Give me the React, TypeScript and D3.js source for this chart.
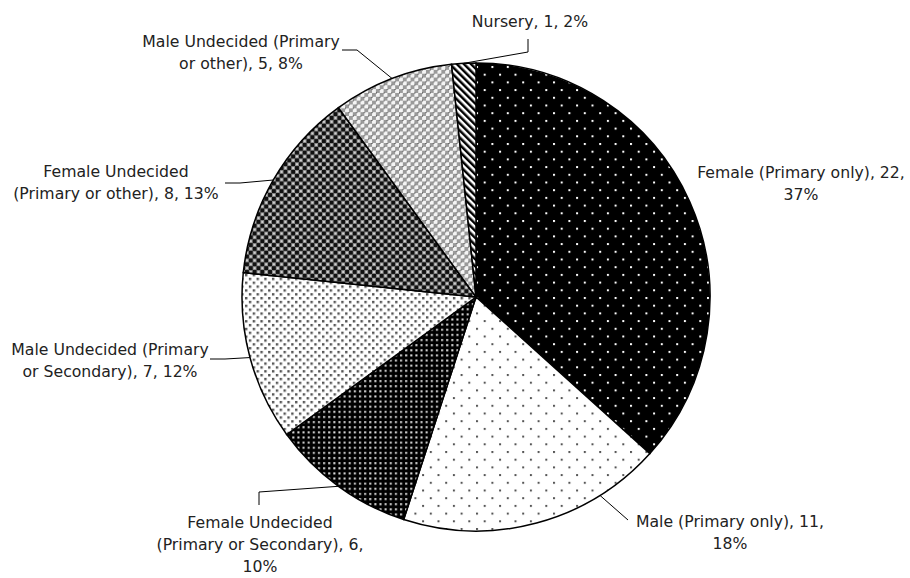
import { useEffect } from 'react';
import * as d3 from 'd3';

// slices, clockwise from 12 o'clock
const categories = [
    'Female (Primary only)',
    'Male (Primary only)',
    'Female Undecided (Primary or Secondary)',
    'Male Undecided (Primary or Secondary)',
    'Female Undecided (Primary or other)',
    'Male Undecided (Primary or other)',
    'Nursery',
];
const values = [22, 11, 6, 7, 8, 5, 1];

// how each label is broken into lines ({v} = value, {p} = percent)
const labelLines = [
    ['Female (Primary only), {v},', '{p}'],
    ['Male (Primary only), {v},', '{p}'],
    ['Female Undecided', '(Primary or Secondary), {v},', '{p}'],
    ['Male Undecided (Primary', 'or Secondary), {v}, {p}'],
    ['Female Undecided', '(Primary or other), {v}, {p}'],
    ['Male Undecided (Primary', 'or other), {v}, {p}'],
    ['Nursery, {v}, {p}'],
];

const patternIds = ['p0', 'p1', 'p2', 'p3', 'p4', 'p5', 'p6'];

// label placement: centre x, first baseline, leader bend points, leader angle on rim
const labelLayout = [
    { x: 801, y: 178, leader: [] as number[][], angle: null as number | null },
    { x: 730, y: 527, leader: [[628, 520]], angle: 148 },
    { x: 260, y: 528, leader: [[259, 492], [259, 505]], angle: null },
    { x: 110, y: 355, leader: [[225, 359], [210, 359]], angle: null },
    { x: 116, y: 177, leader: [[240, 183], [225, 183]], angle: null },
    { x: 241, y: 47, leader: [[357, 50], [342, 50]], angle: null },
    { x: 530, y: 27, leader: [[528, 52], [528, 39]], angle: null },
];

const W = 910;
const H = 578;
const cx = 476;
const cy = 297;
const R = 234;
const lineH = 22;

export default function App() {
    useEffect(() => {
        document.body.style.margin = '0';
    }, []);

    const total = d3.sum(values);
    const pie = d3.pie<number>().sort(null).startAngle(0).endAngle(2 * Math.PI);
    const arcs = pie(values);
    const arc = d3.arc<d3.PieArcDatum<number>>().innerRadius(0).outerRadius(R);

    const rim = (a: number) => [cx + R * Math.sin(a), cy - R * Math.cos(a)];

    const s = 7.7;

    return (
        <svg width={W} height={H} style={{ display: 'block', background: '#fff' }}>
            <defs>
                <pattern id="p0" width={2 * s} height={2 * s} patternUnits="userSpaceOnUse">
                    <rect width={2 * s} height={2 * s} fill="#000" />
                    <rect x={0} y={0} width={2} height={2} fill="#fff" />
                    <rect x={s} y={s} width={2} height={2} fill="#fff" />
                </pattern>
                <pattern id="p1" width={2 * s} height={2 * s} patternUnits="userSpaceOnUse">
                    <rect width={2 * s} height={2 * s} fill="#fff" />
                    <rect x={0} y={0} width={2} height={2} fill="#555" />
                    <rect x={s} y={s} width={2} height={2} fill="#555" />
                </pattern>
                <pattern id="p2" width={5.13} height={5.13} patternUnits="userSpaceOnUse">
                    <rect width={5.13} height={5.13} fill="#000" />
                    <rect x={1} y={1} width={2} height={2} fill="#ddd" />
                </pattern>
                <pattern id="p3" width={s} height={s} patternUnits="userSpaceOnUse">
                    <rect width={s} height={s} fill="#fff" />
                    <rect x={0} y={0} width={2.4} height={2.4} fill="#555" />
                    <rect x={s / 2} y={s / 2} width={2.4} height={2.4} fill="#555" />
                </pattern>
                <pattern id="p4" width={s} height={s} patternUnits="userSpaceOnUse">
                    <rect width={s} height={s} fill="#111" />
                    <rect x={0} y={0} width={s / 2} height={s / 2} fill="#8a8a8a" />
                    <rect x={s / 2} y={s / 2} width={s / 2} height={s / 2} fill="#8a8a8a" />
                    <rect x={1.2} y={1.2} width={1.5} height={1.5} fill="#fff" />
                    <rect x={s / 2 + 1.2} y={s / 2 + 1.2} width={1.5} height={1.5} fill="#fff" />
                </pattern>
                <pattern id="p5" width={s} height={s} patternUnits="userSpaceOnUse">
                    <rect width={s} height={s} fill="#f4f4f4" />
                    <rect x={0} y={0} width={s / 2} height={s / 2} fill="#9a9a9a" />
                    <rect x={s / 2} y={s / 2} width={s / 2} height={s / 2} fill="#9a9a9a" />
                    <rect x={s / 2 - 0.7} y={-0.7} width={1.4} height={1.4} fill="#333" />
                    <rect x={-0.7} y={s / 2 - 0.7} width={1.4} height={1.4} fill="#333" />
                </pattern>
                <pattern id="p6" width={5} height={5} patternUnits="userSpaceOnUse" patternTransform="rotate(-45)">
                    <rect width={5} height={5} fill="#fff" />
                    <rect width={2.5} height={5} fill="#000" />
                </pattern>
            </defs>

            <g transform={`translate(${cx},${cy})`}>
                {arcs.map((d, i) => (
                    <path key={i} d={arc(d) || ''} fill={`url(#${patternIds[i]})`} stroke="#000" strokeWidth={1.5} />
                ))}
            </g>

            {arcs.map((d, i) => {
                const lay = labelLayout[i];
                const mid = lay.angle !== null ? (lay.angle * Math.PI) / 180 : (d.startAngle + d.endAngle) / 2;
                if (!lay.leader.length) return null;
                const pts = [rim(mid), ...lay.leader];
                return (
                    <polyline
                        key={'l' + i}
                        points={pts.map(p => p.join(',')).join(' ')}
                        fill="none"
                        stroke="#000"
                        strokeWidth={1}
                    />
                );
            })}

            {categories.map((c, i) => {
                const lay = labelLayout[i];
                const pct = Math.round((values[i] / total) * 100) + '%';
                return (
                    <text
                        key={'t' + c}
                        x={lay.x}
                        y={lay.y}
                        textAnchor="middle"
                        fontFamily="'DejaVu Sans', sans-serif"
                        fontSize={15.7}
                        fill="#222"
                    >
                        {labelLines[i].map((ln, j) => (
                            <tspan key={j} x={lay.x} y={lay.y + j * lineH}>
                                {ln.replace('{v}', String(values[i])).replace('{p}', pct)}
                            </tspan>
                        ))}
                    </text>
                );
            })}
        </svg>
    );
}
